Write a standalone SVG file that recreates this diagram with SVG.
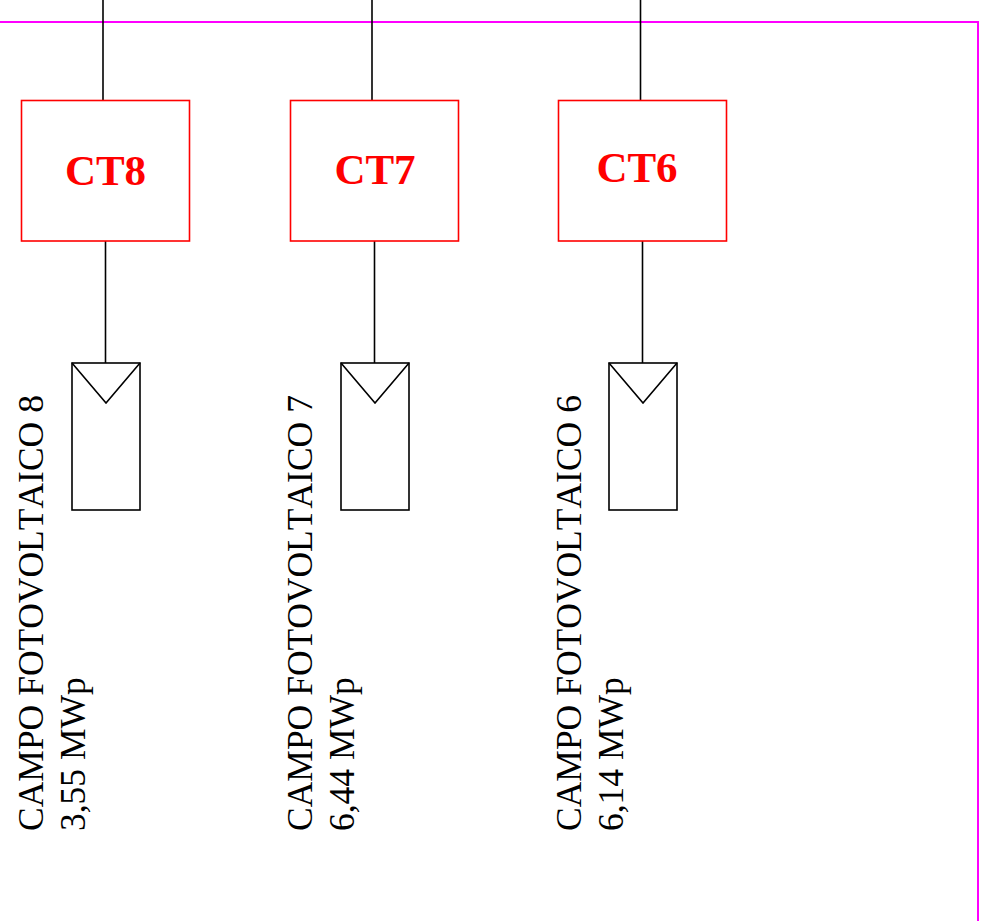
<svg xmlns="http://www.w3.org/2000/svg" width="991" height="921" viewBox="0 0 991 921">
<style>
.ln{stroke:#000;stroke-width:1.6;fill:none}
.ct{fill:#fff;stroke:#f00;stroke-width:1.6}
.ctt{font-family:"Liberation Serif",serif;font-weight:bold;font-size:43px;fill:#f00;text-anchor:middle}
.pv{fill:#fff;stroke:#000;stroke-width:1.6}
.lbl{font-family:"Liberation Serif",serif;font-size:35.5px;fill:#000;font-kerning:none}
.bd{stroke:#f0f;stroke-width:2;fill:none}
</style>
<rect width="991" height="921" fill="#fff"/>
<polyline class="bd" points="0,22 978,22 978,921"/>
<g id="connectors">
<line class="ln" x1="103" y1="0" x2="103" y2="100"/>
<line class="ln" x1="105.5" y1="241" x2="105.5" y2="363"/>
<line class="ln" x1="372" y1="0" x2="372" y2="100"/>
<line class="ln" x1="374.5" y1="241" x2="374.5" y2="363"/>
<line class="ln" x1="640.5" y1="0" x2="640.5" y2="100"/>
<line class="ln" x1="642.5" y1="241" x2="642.5" y2="363"/>
</g>
<g id="CT8">
<rect class="ct" x="21.5" y="100.5" width="168" height="140.5"/>
<text class="ctt" x="105.5" y="185">CT8</text>
</g>
<g id="CT7">
<rect class="ct" x="290.5" y="100.5" width="168" height="140.5"/>
<text class="ctt" x="375" y="184">CT7</text>
</g>
<g id="CT6">
<rect class="ct" x="558.5" y="100.5" width="168" height="140.5"/>
<text class="ctt" x="637" y="182">CT6</text>
</g>
<g id="PV8">
<rect class="pv" x="72" y="363" width="68" height="147"/>
<polyline class="ln" points="72,363 106,403 140,363"/>
<text class="lbl" transform="translate(43,831) rotate(-90)">CAMPO FOTOVOLTAICO 8</text>
<text class="lbl" transform="translate(85,831) rotate(-90)">3,55 MWp</text>
</g>
<g id="PV7">
<rect class="pv" x="341" y="363" width="68" height="147"/>
<polyline class="ln" points="341,363 375,403 409,363"/>
<text class="lbl" transform="translate(312,831) rotate(-90)">CAMPO FOTOVOLTAICO 7</text>
<text class="lbl" transform="translate(354,831) rotate(-90)">6,44 MWp</text>
</g>
<g id="PV6">
<rect class="pv" x="609" y="363" width="68" height="147"/>
<polyline class="ln" points="609,363 643,403 677,363"/>
<text class="lbl" transform="translate(581,831) rotate(-90)">CAMPO FOTOVOLTAICO 6</text>
<text class="lbl" transform="translate(623,831) rotate(-90)">6,14 MWp</text>
</g>
</svg>
